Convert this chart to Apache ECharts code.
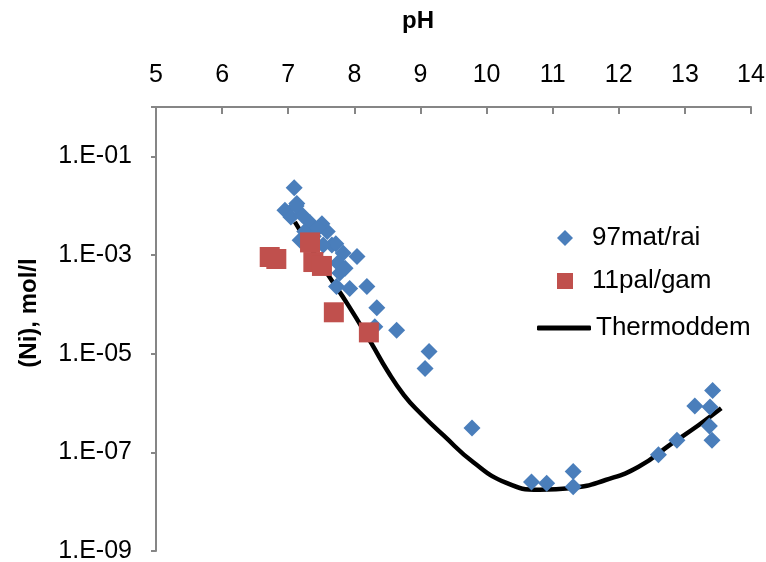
<!DOCTYPE html>
<html>
<head>
<meta charset="utf-8">
<script src="https://cdn.jsdelivr.net/npm/echarts@6/dist/echarts.min.js"></script>
<style>html,body{margin:0;padding:0;background:#fff;}#c{width:766px;height:562px;}</style>
</head>
<body>
<div id="c"></div>
<script>
// 97mat/rai (blue diamonds): pH and Ni concentration (mol/l)
var matPH = [7.09, 6.95, 7.13, 7.04, 7.21, 7.12, 7.33, 7.51, 7.18, 7.25, 7.59, 7.66, 7.72, 7.83, 7.75, 8.04, 7.78, 7.73, 7.93, 8.19, 8.34, 8.31, 8.64, 9.13, 9.07, 9.78, 10.68, 10.91, 11.31, 11.31, 12.60, 12.88, 13.15, 13.42, 13.38, 13.37, 13.41, 7.38, 7.53, 7.86, 7.45];
var matNi = [2.3e-2, 8.1e-3, 1.1e-2, 5.9e-3, 6.5e-3, 9.8e-3, 4.5e-3, 4.3e-3, 2.0e-3, 3.0e-3, 3.0e-3, 1.6e-3, 1.7e-3, 1.1e-3, 6.9e-4, 9.3e-4, 4.3e-4, 2.3e-4, 2.1e-4, 2.3e-4, 8.5e-5, 3.5e-5, 3.0e-5, 1.1e-5, 5.0e-6, 3.1e-7, 2.5e-8, 2.35e-8, 4.1e-8, 2.0e-8, 8.9e-8, 1.75e-7, 8.7e-7, 1.8e-6, 8.3e-7, 3.4e-7, 1.75e-7, 2.4e-3, 1.6e-3, 5.4e-4, 3.5e-3];
// 11pal/gam (red squares)
var palPH = [6.72, 6.82, 7.33, 7.38, 7.51, 7.69, 8.22];
var palNi = [9.1e-4, 8.3e-4, 1.8e-3, 7.2e-4, 6.0e-4, 6.9e-5, 2.7e-5];
// Thermoddem (black curve)
var thPH = [7.10, 7.40, 7.60, 7.90, 8.25, 8.50, 8.75, 9.00, 9.35, 9.80, 10.30, 10.80, 11.30, 11.80, 12.30, 12.80, 13.20, 13.55];
var thNi = [4.7e-3, 1.05e-3, 4.0e-4, 1.0e-4, 1.7e-5, 4.5e-6, 1.45e-6, 6.2e-7, 2.2e-7, 6.3e-8, 2.4e-8, 1.75e-8, 1.9e-8, 2.75e-8, 5.1e-8, 1.5e-7, 3.5e-7, 7.8e-7];
// axes
var xTicks = [5, 6, 7, 8, 9, 10, 11, 12, 13, 14];
var yLabelExps = [-1, -3, -5, -7, -9];
var seriesNames = ['97mat/rai', '11pal/gam', 'Thermoddem'];

function pairs(a, b) { return a.map(function (v, i) { return [v, b[i]]; }); }

var chart = echarts.init(document.getElementById('c'), null, {renderer: 'canvas'});
var font = 'Liberation Sans, Arial, sans-serif';
var axisGray = '#868686';
var legendText = {fontFamily: font, fontSize: 26, color: '#000'};
chart.setOption({
  animation: false,
  backgroundColor: '#ffffff',
  grid: {left: 156, right: 15, top: 107, bottom: 11, containLabel: false, outerBoundsMode: 'none'},
  legend: [
    {
      orient: 'vertical', left: 552, top: 220,
      itemWidth: 16, itemHeight: 16, itemGap: 17,
      data: [seriesNames[0], {name: seriesNames[1], itemStyle: {opacity: 1}}],
      textStyle: Object.assign({padding: [0, 0, 0, 14]}, legendText)
    },
    {
      orient: 'vertical', left: 532, top: 310,
      itemWidth: 54, itemHeight: 5,
      data: [{name: seriesNames[2], icon: 'roundRect'}],
      textStyle: legendText
    }
  ],
  xAxis: {
    type: 'value', position: 'top', min: xTicks[0], max: xTicks[xTicks.length - 1], interval: 1,
    name: 'pH', nameLocation: 'middle', nameGap: 74,
    nameTextStyle: {fontFamily: font, fontSize: 24, fontWeight: 'bold', color: '#000', padding: [0, 71, 0, 0]},
    axisLine: {show: true, lineStyle: {color: axisGray, width: 2}},
    axisTick: {show: true, inside: true, length: 7, lineStyle: {color: axisGray, width: 2}},
    axisLabel: {fontFamily: font, fontSize: 25, color: '#000', margin: 19},
    splitLine: {show: false}
  },
  yAxis: {
    type: 'log', logBase: 10, min: 1e-9, max: 1, interval: 2,
    name: '(Ni), mol/l', nameLocation: 'middle', nameGap: 115, nameRotate: 90,
    nameTextStyle: {fontFamily: font, fontSize: 24, fontWeight: 'bold', color: '#000', padding: [0, 0, 0, 32]},
    axisLine: {show: true, lineStyle: {color: axisGray, width: 2}},
    axisTick: {show: true, length: 5, lineStyle: {color: axisGray, width: 2}},
    axisLabel: {
      fontFamily: font, fontSize: 25, color: '#000', margin: 24,
      formatter: function (v) {
        var e = Math.round(Math.log10(v));
        if (yLabelExps.indexOf(e) < 0) return '';
        var a = Math.abs(e);
        return '1.E' + (e < 0 ? '-' : '+') + (a < 10 ? '0' : '') + a;
      }
    },
    splitLine: {show: false}
  },
  series: [
    {
      name: seriesNames[0], type: 'scatter', symbol: 'diamond', symbolSize: 17, z: 3,
      itemStyle: {color: '#4A7EBB', opacity: 1},
      data: pairs(matPH, matNi)
    },
    {
      name: seriesNames[1], type: 'scatter', symbol: 'rect', symbolSize: 20, z: 4,
      itemStyle: {color: '#C0504D', opacity: 1},
      data: pairs(palPH, palNi)
    },
    {
      name: seriesNames[2], type: 'line', smooth: 0.5, symbol: 'none', showSymbol: false, z: 2,
      lineStyle: {color: '#000', width: 4.5},
      itemStyle: {color: '#000'},
      data: pairs(thPH, thNi)
    }
  ]
});
</script>
</body>
</html>
